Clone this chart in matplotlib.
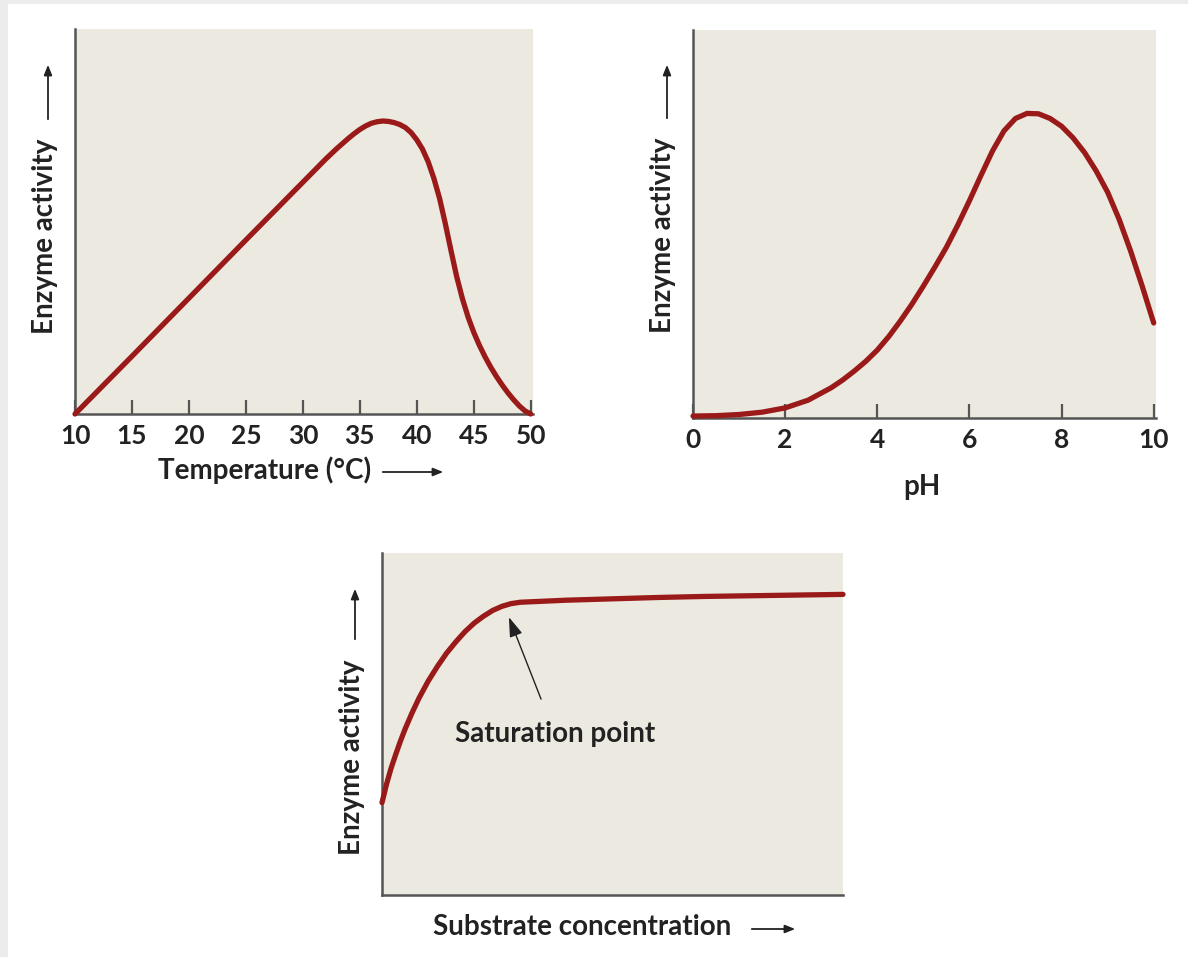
import matplotlib
matplotlib.use("Agg")
import matplotlib.pyplot as plt
from matplotlib.patches import Rectangle, FancyArrowPatch

plt.rcParams['font.family'] = ['Lato', 'DejaVu Sans']
plt.rcParams['font.weight'] = 'bold'

# ---- data ----
temp_x = [10, 15, 20, 25, 30, 32, 33, 33.5, 34, 34.5, 35, 35.5, 36, 36.5, 37, 37.5, 38,
          38.5, 39, 39.5, 40, 40.5, 41, 41.5, 42, 42.5, 43, 43.5, 44, 44.5, 45, 45.5,
          46, 46.5, 47, 47.5, 48, 48.5, 49, 49.5, 50]
temp_y = [0.0, 0.150, 0.301, 0.452, 0.602, 0.662, 0.690, 0.703, 0.716, 0.728, 0.739,
          0.748, 0.755, 0.759, 0.761, 0.760, 0.757, 0.752, 0.744, 0.731, 0.712, 0.688,
          0.655, 0.612, 0.560, 0.495, 0.425, 0.357, 0.300, 0.252, 0.212, 0.178, 0.148,
          0.121, 0.097, 0.075, 0.055, 0.037, 0.021, 0.008, 0.0]
temp_ticks = [10, 15, 20, 25, 30, 35, 40, 45, 50]

ph_x = [0, 0.5, 1, 1.5, 2, 2.5, 3, 3.25, 3.5, 3.75, 4, 4.25, 4.5, 4.75, 5, 5.25, 5.5,
        5.75, 6, 6.25, 6.5, 6.75, 7, 7.25, 7.5, 7.75, 8, 8.25, 8.5, 8.75, 9, 9.25, 9.5,
        9.75, 10]
ph_y = [0.005, 0.006, 0.009, 0.015, 0.026, 0.046, 0.078, 0.098, 0.121, 0.146, 0.175,
        0.210, 0.250, 0.293, 0.340, 0.389, 0.440, 0.498, 0.560, 0.625, 0.688, 0.740,
        0.772, 0.785, 0.784, 0.772, 0.752, 0.722, 0.684, 0.637, 0.582, 0.512, 0.430,
        0.340, 0.245]
ph_ticks = [0, 2, 4, 6, 8, 10]

sub_x = [0, 0.1, 0.2, 0.3, 0.4, 0.5, 0.65, 0.8, 1.0, 1.2, 1.4, 1.6, 1.8, 2.0, 2.2, 2.4,
         2.6, 2.8, 3.0, 3.5, 4, 5, 6, 7, 8, 9, 10]
sub_y = [0.27, 0.325, 0.372, 0.412, 0.450, 0.485, 0.532, 0.575, 0.625, 0.668, 0.707,
         0.740, 0.770, 0.795, 0.815, 0.832, 0.844, 0.852, 0.856, 0.859, 0.862, 0.866,
         0.870, 0.873, 0.875, 0.877, 0.879]

W, H = 1188, 957
fig = plt.figure(figsize=(W / 100, H / 100), dpi=100)
fig.patch.set_facecolor('white')

# faint gray frame strips on left and top edges
fig.add_artist(Rectangle((0, 0), 8 / W, 1, transform=fig.transFigure,
                         facecolor='#ececec', edgecolor='none', zorder=0))
fig.add_artist(Rectangle((0, 1 - 4 / H), 1, 4 / H, transform=fig.transFigure,
                         facecolor='#ececec', edgecolor='none', zorder=0))

BG = '#ece9e0'
RED = '#9a1a1a'
SPINE = '#555555'
TXT = '#222222'
FS = 20
TFS = 19


def make_ax(l, t, r, b):
    ax = fig.add_axes([l / W, 1 - b / H, (r - l) / W, (b - t) / H])
    ax.set_facecolor(BG)
    for s in ('top', 'right'):
        ax.spines[s].set_visible(False)
    for s in ('left', 'bottom'):
        ax.spines[s].set_color(SPINE)
        ax.spines[s].set_linewidth(1.8)
    ax.set_yticks([])
    return ax


def px_text(x, y, s, **kw):
    fig.text(x / W, 1 - y / H, s, color=TXT, fontsize=FS, fontweight='bold', **kw)


def px_arrow(x0, y0, x1, y1):
    fig.add_artist(FancyArrowPatch(
        (x0 / W, 1 - y0 / H), (x1 / W, 1 - y1 / H), transform=fig.transFigure,
        arrowstyle='-|>,head_length=6,head_width=2.4', color='#222222', lw=1.3,
        mutation_scale=1))


# ---- temperature ----
ax1 = make_ax(75, 29, 533, 414)
ax1.plot(temp_x, temp_y, color=RED, lw=3.8, solid_capstyle='round',
         solid_joinstyle='round', clip_on=False, zorder=3)
ax1.set_xlim(10, 50.2)
ax1.set_ylim(0, 1)
ax1.set_xticks(temp_ticks)
ax1.tick_params(axis='x', direction='in', length=10, width=1.6, color=SPINE,
                labelsize=TFS, pad=7, labelcolor=TXT)
px_text(265, 470, 'Temperature (°C)', ha='center', va='center')
px_arrow(380, 472, 446, 472)
px_text(45, 236, 'Enzyme activity', rotation=90, ha='center', va='center')
px_arrow(48, 122, 48, 62)

# ---- pH ----
ax2 = make_ax(693, 30, 1156, 418)
ax2.plot(ph_x, ph_y, color=RED, lw=3.8, solid_capstyle='round',
         solid_joinstyle='round', clip_on=False, zorder=3)
ax2.set_xlim(0, 10.05)
ax2.set_ylim(0, 1)
ax2.set_xticks(ph_ticks)
ax2.tick_params(axis='x', direction='in', length=10, width=1.6, color=SPINE,
                labelsize=TFS, pad=7, labelcolor=TXT)
px_text(922, 487, 'pH', ha='center', va='center')
px_text(663, 235, 'Enzyme activity', rotation=90, ha='center', va='center')
px_arrow(667, 121, 667, 62)

# ---- substrate ----
ax3 = make_ax(382, 553, 843, 895)
ax3.plot(sub_x, sub_y, color=RED, lw=3.8, solid_capstyle='round',
         solid_joinstyle='round', clip_on=False, zorder=3)
ax3.set_xlim(0, 10)
ax3.set_ylim(0, 1)
ax3.set_xticks([])
ax3.annotate('Saturation point', xy=(2.73, 0.82), xytext=(3.75, 0.47),
             ha='center', va='center', fontsize=FS, fontweight='bold', color=TXT,
             arrowprops=dict(arrowstyle='-|>,head_length=0.6,head_width=0.2',
                             color='#222222', lw=1.0, shrinkA=15, shrinkB=2))
px_text(582, 927, 'Substrate concentration', ha='center', va='center')
px_arrow(749, 929, 798, 929)
px_text(352, 757, 'Enzyme activity', rotation=90, ha='center', va='center')
px_arrow(355, 642, 355, 586)

fig.savefig('out.png', dpi=100, facecolor='white')
